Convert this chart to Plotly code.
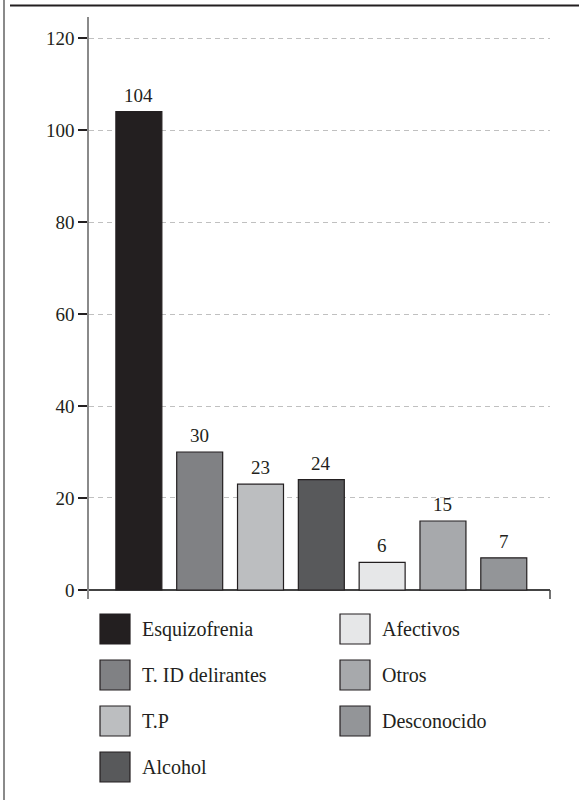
import plotly.graph_objects as go

# Diagnostic groups and patient counts
categories = ["Esquizofrenia", "T. ID delirantes", "T.P", "Alcohol",
              "Afectivos", "Otros", "Desconocido"]
counts = [104, 30, 23, 24, 6, 15, 7]
colors = ["#231f20", "#808184", "#bcbec0", "#58595b",
          "#e6e7e8", "#a7a9ac", "#939598"]
y_ticks = [0, 20, 40, 60, 80, 100, 120]

W, H = 579, 800
ML, MR, MT, MB = 89, 29, 17, 201
PW, PH = W - ML - MR, H - MT - MB


def px(x):
    return (x - ML) / PW


def py(y):
    return (H - MB - y) / PH


FONT = "Times New Roman, Liberation Serif, DejaVu Serif, serif"
INK = "#231f20"

xs = list(range(len(categories)))

fig = go.Figure()
fig.add_trace(go.Bar(
    x=xs,
    y=counts,
    marker=dict(color=colors, line=dict(color=INK, width=1.2)),
    width=0.756,
    showlegend=False,
    hovertext=categories,
))

annotations = []
# value labels above each bar
for xi, v in zip(xs, counts):
    annotations.append(dict(text=str(v), x=xi, y=v, xref="x", yref="y",
                            xanchor="center", yanchor="bottom", yshift=4,
                            showarrow=False,
                            font=dict(family=FONT, size=19, color=INK)))

shapes = []
# short closing tick at the right end of the baseline
shapes.append(dict(type="line", xref="paper", yref="y", x0=1, x1=1,
                   y0=-1.96, y1=0, line=dict(color="#444", width=1.5)))
# page frame: left rule and top rule
shapes.append(dict(type="line", xref="paper", yref="paper",
                   x0=px(4), x1=px(4), y0=py(800), y1=py(0),
                   line=dict(color="#8a8a8a", width=2)))
shapes.append(dict(type="line", xref="paper", yref="paper",
                   x0=px(10), x1=px(579), y0=py(5.5), y1=py(5.5),
                   line=dict(color=INK, width=2)))

# legend: two columns of swatches with labels
col_x = [100, 340]
row_y = [629, 675, 721, 767]
for i, (name, c) in enumerate(zip(categories, colors)):
    col = 0 if i < 4 else 1
    row = i if i < 4 else i - 4
    sx, cy = col_x[col], row_y[row]
    shapes.append(dict(type="rect", xref="paper", yref="paper",
                       x0=px(sx), x1=px(sx + 30), y0=py(cy - 15), y1=py(cy + 15),
                       fillcolor=c, line=dict(color=INK, width=1.2)))
    annotations.append(dict(text=name, xref="paper", yref="paper",
                            x=px(sx + 40), y=py(cy), xanchor="left", yanchor="middle",
                            showarrow=False,
                            font=dict(family=FONT, size=20, color=INK)))

fig.update_layout(
    width=W, height=H,
    margin=dict(l=ML, r=MR, t=MT, b=MB, pad=0),
    paper_bgcolor="white", plot_bgcolor="white",
    shapes=shapes, annotations=annotations,
    bargap=0.2,
    xaxis=dict(range=[-0.82, 6.76], showticklabels=False, ticks="",
               showgrid=False, zeroline=False, showline=False, fixedrange=True),
    yaxis=dict(range=[-1.96, 124.57], tickvals=y_ticks,
               ticks="outside", ticklen=9, tickwidth=1.5, tickcolor=INK,
               tickfont=dict(family=FONT, size=19, color=INK),
               showline=True, linecolor="#8a8a8a", linewidth=1.5,
               showgrid=True, gridcolor="#c0c0c0", griddash="5px,4px", gridwidth=1,
               zeroline=True, zerolinecolor="#444", zerolinewidth=1.5,
               fixedrange=True),
)

fig.write_html("out.html")
